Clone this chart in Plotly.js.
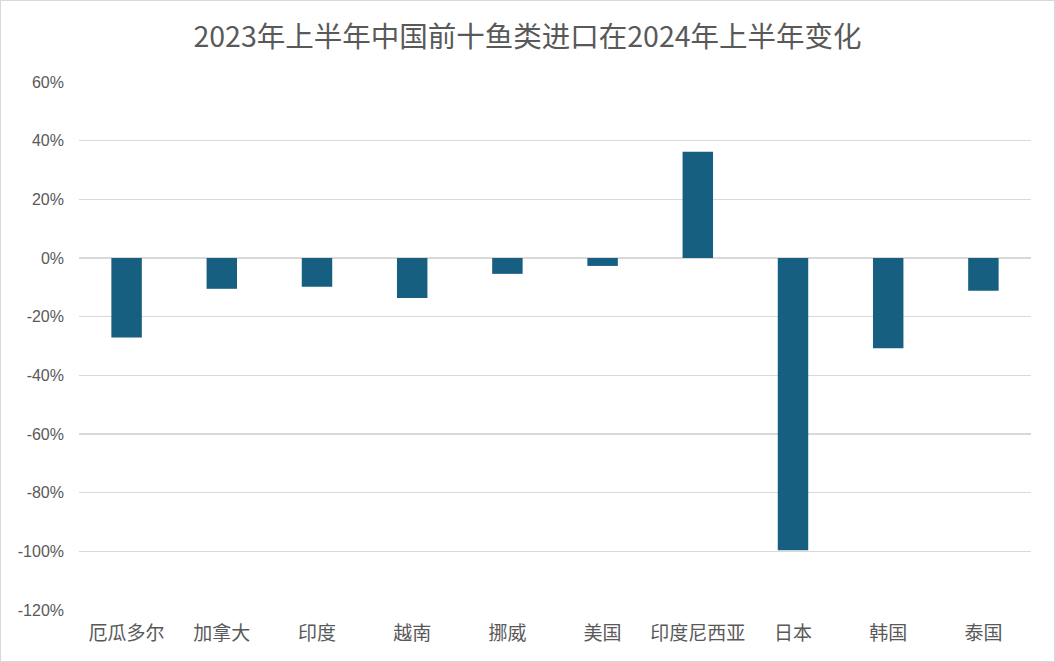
<!DOCTYPE html>
<html><head><meta charset="utf-8">
<script src="https://cdn.plot.ly/plotly-3.0.1.min.js"></script>
<style>html,body{margin:0;padding:0;background:#fff}#chart{width:1053px;height:660px;border:1px solid #d9d9d9}</style>
</head><body><div id="chart"></div>
<script>
const categories = ['厄瓜多尔','加拿大','印度','越南','挪威','美国','印度尼西亚','日本','韩国','泰国'];
const changePct = [-27.1, -10.5, -9.8, -13.6, -5.4, -2.7, 36.2, -99.6, -30.8, -11.2];
const yTickVals = [-120, -100, -80, -60, -40, -20, 0, 20, 40, 60];
const yTickText = yTickVals.map(v => v + '%');

Plotly.newPlot('chart', [{
  type: 'bar', x: categories, y: changePct,
  marker: {color: '#165F81'}, hoverinfo: 'x+y'
}], {
  width: 1053, height: 660,
  margin: {l: 78, r: 23, t: 81, b: 51},
  paper_bgcolor: '#fff', plot_bgcolor: '#fff',
  title: {text: '2023年上半年中国前十鱼类进口在2024年上半年变化', x: 0.5, xanchor: 'center', y: 0.945, yanchor: 'middle',
    font: {family: '"Noto Sans CJK SC", "Liberation Sans", sans-serif', size: 28.5, color: '#595959'}},
  bargap: 0.68,
  xaxis: {type: 'category', showgrid: false, showline: false, ticks: '', ticklabelstandoff: 10,
    tickfont: {family: '"Noto Sans CJK SC", sans-serif', size: 19, color: '#595959'}},
  yaxis: {range: [-120, 60], tickvals: yTickVals, ticktext: yTickText, showgrid: true, gridcolor: '#d9d9d9', gridwidth: 1.5,
    zeroline: true, zerolinecolor: '#d9d9d9', zerolinewidth: 1.5, showline: false, ticks: '', ticklabelstandoff: 14,
    tickfont: {family: '"Liberation Sans", Arial, sans-serif', size: 16, color: '#595959'}},
  showlegend: false
}, {displayModeBar: false, staticPlot: true});
</script></body></html>
